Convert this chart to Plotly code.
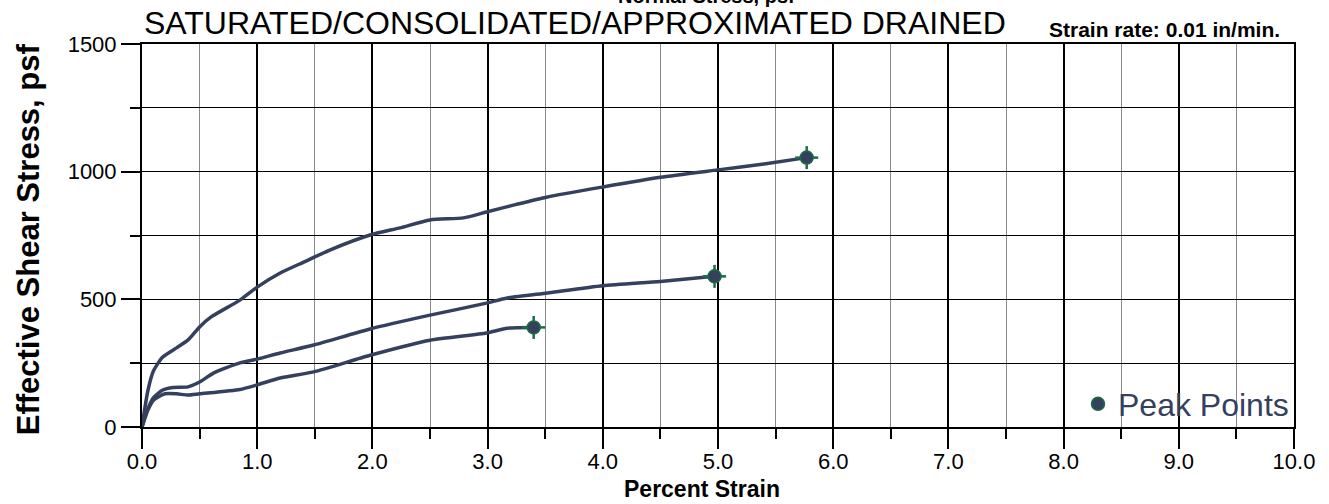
import plotly.graph_objects as go

# ---- data ----
strain_a = [0, 0.05, 0.1, 0.18, 0.3, 0.4, 0.5, 0.6, 0.85, 1.0, 1.2, 1.4, 1.63, 1.98, 2.24, 2.5, 2.79, 2.99, 3.25, 3.52, 4.0, 4.5, 5.0, 5.4, 5.77]
stress_a = [0, 140, 220, 274, 310, 341, 392, 431, 497, 548, 603, 645, 693, 752, 780, 811, 819, 842, 872, 901, 940, 978, 1007, 1030, 1055]

strain_b = [0, 0.05, 0.1, 0.18, 0.27, 0.4, 0.5, 0.62, 0.85, 1.0, 1.2, 1.49, 1.98, 2.5, 2.99, 3.17, 3.52, 4.0, 4.5, 4.97]
stress_b = [0, 70, 115, 145, 155, 157, 176, 211, 251, 266, 290, 321, 384, 438, 485, 505, 525, 553, 570, 590]

strain_c = [0, 0.05, 0.1, 0.2, 0.3, 0.4, 0.5, 0.85, 1.0, 1.2, 1.49, 1.98, 2.5, 2.99, 3.17, 3.4]
stress_c = [0, 65, 105, 130, 130, 125, 130, 147, 165, 192, 216, 281, 340, 368, 387, 390]

peak_strain = [3.40, 4.97, 5.77]
peak_stress = [390, 590, 1055]
peak_err_stress = [45, 45, 45]
peak_err_strain = [0.1, 0.1, 0.1]

x_tick_vals = [0, 1, 2, 3, 4, 5, 6, 7, 8, 9, 10]
y_tick_vals = [0, 500, 1000, 1500]

LINE = "#34405e"
GREEN = "#1d6b45"
FONT = "Arial, Liberation Sans, sans-serif"

fig = go.Figure()
for xs, ys in [(strain_a, stress_a), (strain_b, stress_b), (strain_c, stress_c)]:
    fig.add_trace(go.Scatter(x=xs, y=ys, mode="lines", showlegend=False,
                             line=dict(color=LINE, width=3.5, shape="spline", smoothing=0.6),
                             hoverinfo="skip"))

fig.add_trace(go.Scatter(
    x=peak_strain, y=peak_stress, mode="markers", name="Peak Points",
    marker=dict(symbol="circle", size=13, color=LINE, line=dict(color=GREEN, width=1.5)),
    error_y=dict(type="data", array=peak_err_stress, color=GREEN, thickness=2.5, width=0),
    error_x=dict(type="data", array=peak_err_strain, color=GREEN, thickness=2.5, width=0),
))

fig.update_layout(
    width=1329, height=504,
    margin=dict(l=142, r=35, t=44, b=77),
    paper_bgcolor="white", plot_bgcolor="white",
    font=dict(family=FONT, color="black", size=22),
    legend=dict(x=1.0, y=0.06, xanchor="right", yanchor="middle",
                bgcolor="rgba(0,0,0,0)", font=dict(size=32, color=LINE),
                itemsizing="trace", tracegroupgap=0),
    xaxis=dict(range=[0, 10], tickvals=x_tick_vals, tickformat=".1f",
               showgrid=True, gridcolor="black", gridwidth=1.5,
               ticks="outside", ticklen=20, tickwidth=1.5, tickcolor="black",
               ticklabelstandoff=-6,
               showline=True, linecolor="black", linewidth=2, mirror=True,
               zeroline=False, tickfont=dict(size=22),
               minor=dict(dtick=0.5, tick0=0, showgrid=True, gridcolor="#8a8a8a", gridwidth=1,
                          ticks="outside", ticklen=10, tickcolor="black", tickwidth=1.5)),
    yaxis=dict(range=[0, 1500], tickvals=y_tick_vals, tickformat="d",
               showgrid=True, gridcolor="black", gridwidth=1,
               ticks="outside", ticklen=19, tickwidth=1.5, tickcolor="black",
               showline=True, linecolor="black", linewidth=2, mirror=True,
               zeroline=False, tickfont=dict(size=22),
               minor=dict(dtick=250, tick0=0, showgrid=True, gridcolor="black", gridwidth=1,
                          ticks="outside", ticklen=10, tickcolor="black", tickwidth=1.5)),
)

annotations = [
    dict(text="Normal Stress, psf", x=0.49, y=1.126, xref="paper", yref="paper",
         xanchor="center", yanchor="middle", showarrow=False,
         font=dict(size=20, family=FONT, color="black", weight="bold")),
    dict(text="SATURATED/CONSOLIDATED/APPROXIMATED DRAINED", x=0.0, y=1.055,
         xref="paper", yref="paper", xanchor="left", yanchor="middle", showarrow=False,
         font=dict(size=32, family=FONT, color="black")),
    dict(text="Strain rate: 0.01 in/min.", x=0.99, y=1.039, xref="paper", yref="paper",
         xanchor="right", yanchor="middle", showarrow=False,
         font=dict(size=21, family=FONT, color="black", weight="bold")),
    dict(text="Effective Shear Stress, psf", x=-0.099, y=0.49, xref="paper", yref="paper",
         xanchor="center", yanchor="middle", textangle=-90, showarrow=False,
         font=dict(size=31, family=FONT, color="black", weight="bold")),
    dict(text="Percent Strain", x=0.486, y=-0.162, xref="paper", yref="paper",
         xanchor="center", yanchor="middle", showarrow=False,
         font=dict(size=23, family=FONT, color="black", weight="bold")),
]
fig.update_layout(annotations=annotations)

fig.write_html("out.html", config={"displayModeBar": False},
               post_script="document.body.style.margin='0';")
